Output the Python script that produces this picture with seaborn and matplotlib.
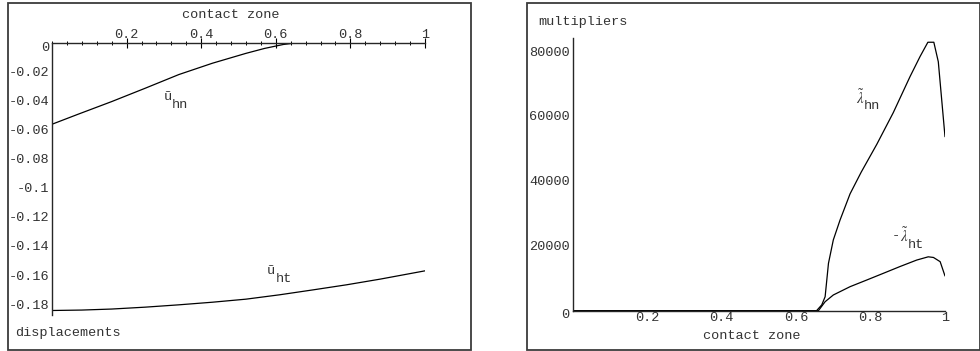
import matplotlib
matplotlib.use("Agg")
import matplotlib.pyplot as plt
from matplotlib.patches import Rectangle
from matplotlib.transforms import offset_copy
from matplotlib.ticker import MultipleLocator
import seaborn as sns
import pandas as pd

# ---- displacements along the contact zone ----
zone_un = [0, 0.07, 0.16, 0.25, 0.34, 0.43, 0.52, 0.57, 0.62, 0.66, 0.75, 0.85, 1.0]
u_hn = [-0.0562, -0.0493, -0.0406, -0.0314, -0.0220, -0.0142, -0.0074,
        -0.0040, -0.0013, 0.0, 0.0, 0.0, 0.0]
zone_ut = [0, 0.08, 0.16, 0.25, 0.34, 0.43, 0.52, 0.61, 0.70, 0.79, 0.88, 1.0]
u_ht = [-0.1844, -0.1841, -0.1834, -0.1821, -0.1805, -0.1787, -0.1766,
        -0.1736, -0.1702, -0.1667, -0.1628, -0.1571]

# ---- Lagrange multipliers along the contact zone ----
zone_ln = [0, 0.655, 0.669, 0.678, 0.687, 0.700, 0.718, 0.745, 0.775, 0.817,
           0.861, 0.906, 0.933, 0.954, 0.970, 0.982, 1.0]
lam_hn = [0, 0, 1800, 4300, 14600, 21800, 27900, 36000, 42700, 51300,
          61000, 72100, 78300, 82700, 82700, 76700, 53600]
zone_lt = [0, 0.66, 0.678, 0.700, 0.745, 0.790, 0.834, 0.879, 0.924, 0.955,
           0.969, 0.987, 1.0]
lam_ht = [0, 0, 2770, 4840, 7400, 9460, 11500, 13600, 15600, 16600, 16400,
          15100, 10700]

x_ticks = [0.2, 0.4, 0.6, 0.8, 1.0]
x_labels = ["0.2", "0.4", "0.6", "0.8", "1"]
disp_ticks = [0, -0.02, -0.04, -0.06, -0.08, -0.1, -0.12, -0.14, -0.16, -0.18]
disp_labels = ["", "-0.02", "-0.04", "-0.06", "-0.08", "-0.1", "-0.12",
               "-0.14", "-0.16", "-0.18"]
mult_ticks = [0, 20000, 40000, 60000, 80000]
mult_labels = ["", "20000", "40000", "60000", "80000"]

sns.set_style("white")
plt.rcParams["font.family"] = ["Liberation Mono", "DejaVu Sans Mono"]
plt.rcParams["mathtext.fontset"] = "stix"

W, H = 980, 351
fig = plt.figure(figsize=(W / 100, H / 100), dpi=100)
fig.patch.set_facecolor("white")


def fx(x):
    return x / W


def fy(y):
    return 1 - y / H


def box(x0, y0, x1, y1):
    return [fx(x0), fy(y1), fx(x1) - fx(x0), fy(y0) - fy(y1)]


FS = 9.7
TXT = "#333333"

# panel frames
for (x0, y0, x1, y1) in [(7.5, 3, 470.5, 349.5), (527, 3, 979.5, 349.5)]:
    fig.add_artist(Rectangle((fx(x0), fy(y1)), fx(x1) - fx(x0), fy(y0) - fy(y1),
                             transform=fig.transFigure, fill=False,
                             edgecolor="#3c3c3c", lw=1.3))


def style_axis(ax):
    ax.set_facecolor("none")
    for s in ax.spines.values():
        s.set_visible(False)
    ax.tick_params(which="major", direction="inout", length=7, width=0.8,
                   color="black", labelsize=FS, labelcolor=TXT)
    ax.tick_params(which="minor", direction="inout", length=3.5, width=0.7,
                   color="black")
    ax.set_xlabel("")
    ax.set_ylabel("")


# ---------------- left panel: displacements ----------------
axL = fig.add_axes(box(52, 42.6, 425, 315))
dfn = pd.DataFrame({"zone": zone_un, "u": u_hn})
dft = pd.DataFrame({"zone": zone_ut, "u": u_ht})
sns.lineplot(data=dfn, x="zone", y="u", ax=axL, color="black", lw=0.9,
             estimator=None, sort=False)
sns.lineplot(data=dft, x="zone", y="u", ax=axL, color="black", lw=0.9,
             estimator=None, sort=False)
axL.set_xlim(0, 1)
axL.set_ylim(-0.1875, 0)
style_axis(axL)
axL.spines["top"].set_visible(True)
axL.spines["left"].set_visible(True)
axL.spines["top"].set_linewidth(1.0)
axL.spines["left"].set_linewidth(1.0)
axL.xaxis.set_ticks_position("top")
axL.xaxis.set_label_position("top")
axL.set_xticks(x_ticks)
axL.set_xticklabels(x_labels)
axL.xaxis.set_minor_locator(MultipleLocator(0.04))
axL.set_yticks(disp_ticks)
axL.set_yticklabels(disp_labels)
axL.yaxis.set_minor_locator(MultipleLocator(0.004))
axL.tick_params(axis="x", pad=-2.5)
axL.tick_params(axis="y", pad=-1.5)
axL.text(0, 0, "0", transform=offset_copy(axL.transData, fig, x=-3, y=-5,
                                          units="dots"),
         ha="right", va="center", fontsize=FS, color=TXT)

axL.text(0.300, -0.0372, "ũ", fontsize=FS, color=TXT, ha="left", va="center")
axL.text(0.322, -0.0428, "hn", fontsize=FS, color=TXT, ha="left", va="center")
axL.text(0.577, -0.1574, "ũ", fontsize=FS, color=TXT, ha="left", va="center")
axL.text(0.599, -0.1630, "ht", fontsize=FS, color=TXT, ha="left", va="center")

fig.text(fx(231), fy(15), "contact zone", fontsize=FS, color=TXT,
         ha="center", va="center")
fig.text(fx(15), fy(333), "displacements", fontsize=FS, color=TXT,
         ha="left", va="center")

# ---------------- right panel: multipliers ----------------
axR = fig.add_axes(box(572.7, 37.7, 945, 310.7))
dln = pd.DataFrame({"zone": zone_ln, "lam": lam_hn})
dlt = pd.DataFrame({"zone": zone_lt, "lam": lam_ht})
sns.lineplot(data=dln, x="zone", y="lam", ax=axR, color="black", lw=0.9,
             estimator=None, sort=False)
sns.lineplot(data=dlt, x="zone", y="lam", ax=axR, color="black", lw=0.9,
             estimator=None, sort=False)
axR.set_xlim(0, 1)
axR.set_ylim(0, 84100)
style_axis(axR)
axR.spines["bottom"].set_visible(True)
axR.spines["left"].set_visible(True)
axR.spines["bottom"].set_linewidth(1.0)
axR.spines["left"].set_linewidth(1.0)
axR.set_xticks(x_ticks)
axR.set_xticklabels(x_labels)
axR.xaxis.set_minor_locator(MultipleLocator(0.04))
axR.set_yticks(mult_ticks)
axR.set_yticklabels(mult_labels)
axR.yaxis.set_minor_locator(MultipleLocator(4000))
axR.tick_params(axis="x", pad=-2.5)
axR.tick_params(axis="y", pad=-1.5)
axR.text(0, 0, "0", transform=offset_copy(axR.transData, fig, x=-3, y=-4,
                                          units="dots"),
         ha="right", va="center", fontsize=FS, color=TXT)

axR.text(0.760, 65500, r"$\tilde{\lambda}$", fontsize=FS + 1, color=TXT,
         ha="left", va="center")
axR.text(0.783, 63000, "hn", fontsize=FS, color=TXT, ha="left", va="center")
axR.text(0.858, 23000, "-", fontsize=FS, color=TXT, ha="left", va="center")
axR.text(0.878, 23000, r"$\tilde{\lambda}$", fontsize=FS + 1, color=TXT,
         ha="left", va="center")
axR.text(0.900, 20300, "ht", fontsize=FS, color=TXT, ha="left", va="center")

fig.text(fx(538), fy(22), "multipliers", fontsize=FS, color=TXT,
         ha="left", va="center")
fig.text(fx(752), fy(336), "contact zone", fontsize=FS, color=TXT,
         ha="center", va="center")

fig.savefig("out.png", dpi=100, facecolor="white")
